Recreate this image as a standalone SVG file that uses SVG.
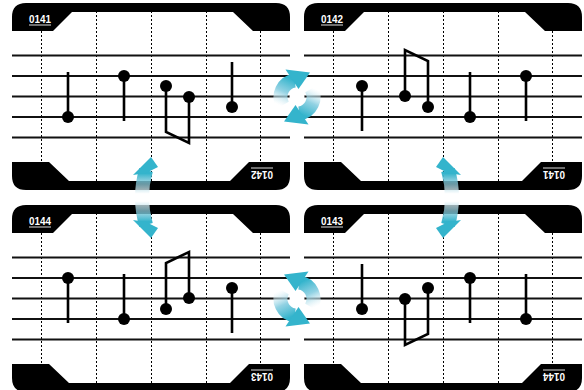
<svg xmlns="http://www.w3.org/2000/svg" xmlns:xlink="http://www.w3.org/1999/xlink" width="584" height="390" viewBox="0 0 584 390">
<style>
.dots line{stroke:#000;stroke-width:1;stroke-dasharray:2 2}
.staff line{stroke:#111;stroke-width:1.8}
.bar{fill:#000}
.stem{stroke:#000;stroke-width:2.6;fill:none;stroke-linejoin:miter}
.head{fill:#000}
.lbl{font-family:"Liberation Sans",Arial,sans-serif;font-weight:bold;font-size:10.5px;fill:#fff}
.ul{stroke:#ddd;stroke-width:1}
.teal{fill:#34b4cc}
</style>
<defs>
<linearGradient id="gArc" gradientUnits="userSpaceOnUse" x1="293" y1="80" x2="281" y2="106">
<stop offset="0" stop-color="#34b4cc"/>
<stop offset="0.5" stop-color="#86cde0" stop-opacity="0.9"/>
<stop offset="1" stop-color="#ffffff" stop-opacity="0.4"/>
</linearGradient>
<linearGradient id="gVert" gradientUnits="userSpaceOnUse" x1="0" y1="160" x2="0" y2="235">
<stop offset="0" stop-color="#34b4cc"/>
<stop offset="0.18" stop-color="#34b4cc"/>
<stop offset="0.32" stop-color="#8ccbdb" stop-opacity="0.75"/>
<stop offset="0.45" stop-color="#ffffff" stop-opacity="0.75"/>
<stop offset="0.55" stop-color="#ffffff" stop-opacity="0.75"/>
<stop offset="0.68" stop-color="#8ccbdb" stop-opacity="0.75"/>
<stop offset="0.82" stop-color="#34b4cc"/>
<stop offset="1" stop-color="#34b4cc"/>
</linearGradient>
<g id="frame">
<g class="dots">
<line x1="29.5" y1="0" x2="29.5" y2="187"/>
<line x1="84.5" y1="0" x2="84.5" y2="187"/>
<line x1="139.5" y1="0" x2="139.5" y2="187"/>
<line x1="194.5" y1="0" x2="194.5" y2="187"/>
<line x1="248.5" y1="0" x2="248.5" y2="187"/>
</g>
<g class="staff">
<line x1="0" y1="52.5" x2="278" y2="52.5"/>
<line x1="0" y1="73" x2="278" y2="73"/>
<line x1="0" y1="93.5" x2="278" y2="93.5"/>
<line x1="0" y1="114" x2="278" y2="114"/>
<line x1="0" y1="134.5" x2="278" y2="134.5"/>
</g>
<path class="bar" d="M0,28 V14 Q0,0 14,0 H264 Q278,0 278,14 V28 H241 L221,9 H60 L41,28 Z"/>
<path class="bar" d="M0,28 V14 Q0,0 14,0 H264 Q278,0 278,14 V28 H241 L221,9 H60 L41,28 Z" transform="rotate(180 139 93.5)"/>
</g>
<g id="notes">
<line class="stem" x1="56" y1="114" x2="56" y2="69"/>
<circle class="head" cx="56" cy="114" r="6"/>
<line class="stem" x1="112" y1="73" x2="112" y2="118"/>
<circle class="head" cx="112" cy="73" r="6"/>
<polyline class="stem" points="154,83 154,129 177,140 177,94"/>
<circle class="head" cx="154" cy="83" r="6"/>
<circle class="head" cx="177" cy="94" r="6"/>
<line class="stem" x1="220" y1="104" x2="220" y2="59"/>
<circle class="head" cx="220" cy="104" r="6"/>
</g>
<g id="cycleHalf">
<path d="M282.7,105.25 A16.5,16.5 0 0 1 294.7,80.66" fill="none" stroke="url(#gArc)" stroke-width="14"/>
<polygon class="teal" points="285.5,69.5 310,72.5 298.5,89"/>
</g>
<g id="cycle">
<ellipse cx="297" cy="97" rx="7.5" ry="8.5" fill="#fff"/>
<use href="#cycleHalf"/>
<use href="#cycleHalf" transform="rotate(180 297 97)"/>
</g>
<g id="vArrow">
<path d="M146,170 Q138,197.5 146,225" fill="none" stroke="url(#gVert)" stroke-width="14"/>
<polygon class="teal" points="151,157 158,167 146,173 133,175"/>
<polygon class="teal" points="151,238 158,228 146,222 133,220"/>
</g>
</defs>

<g id="panel-0141" transform="translate(12,3)">
<use href="#frame"/>
<use href="#notes"/>
<text class="lbl" x="17" y="19.5" textLength="22" lengthAdjust="spacingAndGlyphs">0141</text>
<line class="ul" x1="17" y1="22" x2="39" y2="22"/>
<g transform="rotate(180 139 93.5)">
<text class="lbl" x="17" y="19.5" textLength="22" lengthAdjust="spacingAndGlyphs">0142</text>
<line class="ul" x1="17" y1="22" x2="39" y2="22"/>
</g>
</g>

<g id="panel-0142" transform="translate(304,3)">
<use href="#frame"/>
<use href="#notes" transform="rotate(180 139 93.5)"/>
<text class="lbl" x="17" y="19.5" textLength="22" lengthAdjust="spacingAndGlyphs">0142</text>
<line class="ul" x1="17" y1="22" x2="39" y2="22"/>
<g transform="rotate(180 139 93.5)">
<text class="lbl" x="17" y="19.5" textLength="22" lengthAdjust="spacingAndGlyphs">0141</text>
<line class="ul" x1="17" y1="22" x2="39" y2="22"/>
</g>
</g>

<g id="panel-0144" transform="translate(12,205)">
<use href="#frame"/>
<use href="#notes" transform="translate(0,187) scale(1,-1)"/>
<text class="lbl" x="17" y="19.5" textLength="22" lengthAdjust="spacingAndGlyphs">0144</text>
<line class="ul" x1="17" y1="22" x2="39" y2="22"/>
<g transform="rotate(180 139 93.5)">
<text class="lbl" x="17" y="19.5" textLength="22" lengthAdjust="spacingAndGlyphs">0143</text>
<line class="ul" x1="17" y1="22" x2="39" y2="22"/>
</g>
</g>

<g id="panel-0143" transform="translate(304,205)">
<use href="#frame"/>
<use href="#notes" transform="translate(278,0) scale(-1,1)"/>
<text class="lbl" x="17" y="19.5" textLength="22" lengthAdjust="spacingAndGlyphs">0143</text>
<line class="ul" x1="17" y1="22" x2="39" y2="22"/>
<g transform="rotate(180 139 93.5)">
<text class="lbl" x="17" y="19.5" textLength="22" lengthAdjust="spacingAndGlyphs">0144</text>
<line class="ul" x1="17" y1="22" x2="39" y2="22"/>
</g>
</g>

<g id="connectors">
<use href="#cycle"/>
<use href="#cycle" transform="translate(0,396) scale(1,-1)"/>
<use href="#vArrow"/>
<use href="#vArrow" transform="translate(594,0) scale(-1,1)"/>
</g>
</svg>
